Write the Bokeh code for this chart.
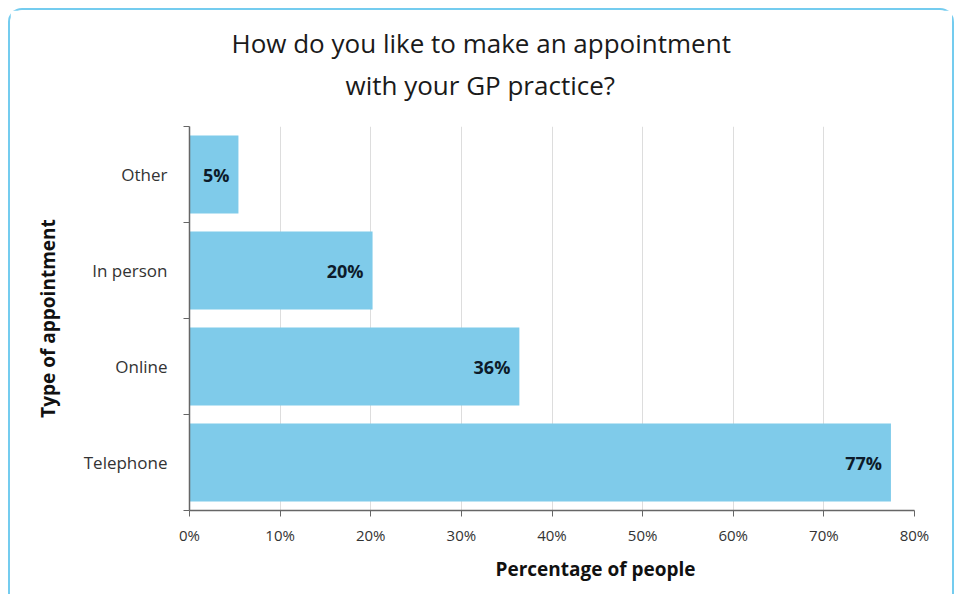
from bokeh.plotting import figure
from bokeh.models import ColumnDataSource, FixedTicker, LabelSet, Title, CustomJSTickFormatter, Range1d
from bokeh.embed import file_html
from bokeh.resources import INLINE
from bokeh.core.properties import value

# Data (bottom to top)
categories = ["Telephone", "Online", "In person", "Other"]
values = [77.4, 36.4, 20.2, 5.4]
value_labels = ["77%", "36%", "20%", "5%"]
x_ticks = [0, 10, 20, 30, 40, 50, 60, 70, 80]
title_lines = ["How do you like to make an appointment", "with your GP practice?"]
x_title = "Percentage of people"
y_title = "Type of appointment"

positions = list(range(len(categories)))
src = ColumnDataSource(dict(y=positions, v=values, lab=value_labels, cat=categories))

FONT = "Open Sans"

p = figure(width=946, height=586, output_backend="svg", toolbar_location=None,
           x_range=Range1d(0, 80), y_range=Range1d(-0.5, len(categories) - 0.5),
           min_border_left=179, min_border_right=42, min_border_top=116, min_border_bottom=86)
p.margin = (8, 0, 0, 8)
p.styles = {"border-top": "2px solid #74ccef", "border-left": "2px solid #74ccef",
            "border-right": "2px solid #74ccef", "border-radius": "14px 14px 0 0",
            "box-sizing": "border-box"}
p.outline_line_color = None
p.background_fill_color = "white"
p.border_fill_color = "white"

p.hbar(y="y", right="v", left=0, height=0.81, source=src, fill_color="#7fcbea", line_color=None)

labels = LabelSet(x="v", y="y", text="lab", source=src, x_offset=-9, text_align="right",
                  text_baseline="middle", text_font=value(FONT), text_font_style="bold",
                  text_font_size="18px", text_color="#0d1b2a")
p.add_layout(labels)

# x axis
p.xaxis.ticker = FixedTicker(ticks=x_ticks)
p.xaxis.formatter = CustomJSTickFormatter(code="return tick + '%';")
p.xaxis.major_label_text_font = FONT
p.xaxis.major_label_text_font_size = "15px"
p.xaxis.major_label_text_color = "#333333"
p.xaxis.axis_line_color = "#666666"
p.xaxis.axis_line_width = 1.5
p.xaxis.major_tick_line_color = "#666666"
p.xaxis.major_tick_in = 0
p.xaxis.major_tick_out = 6
p.xaxis.minor_tick_line_color = None
p.xaxis.major_label_standoff = 8

# y axis
p.yaxis.ticker = FixedTicker(ticks=positions, minor_ticks=[i - 0.5 for i in range(len(categories) + 1)])
p.yaxis.major_label_overrides = {i: c for i, c in enumerate(categories)}
p.yaxis.major_tick_line_color = None
p.yaxis.major_tick_out = 6
p.yaxis.minor_tick_line_color = "#666666"
p.yaxis.minor_tick_out = 6
p.yaxis.minor_tick_in = 0
p.yaxis.axis_line_color = "#666666"
p.yaxis.axis_line_width = 1.5
p.yaxis.major_label_text_font = FONT
p.yaxis.major_label_text_font_size = "17px"
p.yaxis.major_label_text_color = "#333333"
p.yaxis.major_label_standoff = 16
p.yaxis.axis_label = y_title
p.yaxis.axis_label_text_font = FONT
p.yaxis.axis_label_text_font_style = "bold"
p.yaxis.axis_label_text_font_size = "19px"
p.yaxis.axis_label_text_color = "#111111"
p.yaxis.axis_label_standoff = 20

p.ygrid.grid_line_color = None
p.xgrid.ticker = FixedTicker(ticks=x_ticks)
p.xgrid.grid_line_color = "#dddddd"
p.xgrid.grid_line_width = 1

# x-axis title (below), left aligned with offset so it sits where the reference has it
p.add_layout(Title(text=x_title, align="left", offset=306, standoff=12,
                   text_font=FONT, text_font_style="bold", text_font_size="19px",
                   text_color="#111111"), "below")

# titles (later added = outer)
p.add_layout(Title(text=title_lines[1], align="left", offset=156, standoff=47,
                   text_font=FONT, text_font_style="normal", text_font_size="26px",
                   text_color="#1a1a1a"), "above")
p.add_layout(Title(text=title_lines[0], align="left", offset=42, standoff=-39,
                   text_font=FONT, text_font_style="normal", text_font_size="26px",
                   text_color="#1a1a1a"), "above")

open("out.html", "w").write(file_html(p, INLINE))
